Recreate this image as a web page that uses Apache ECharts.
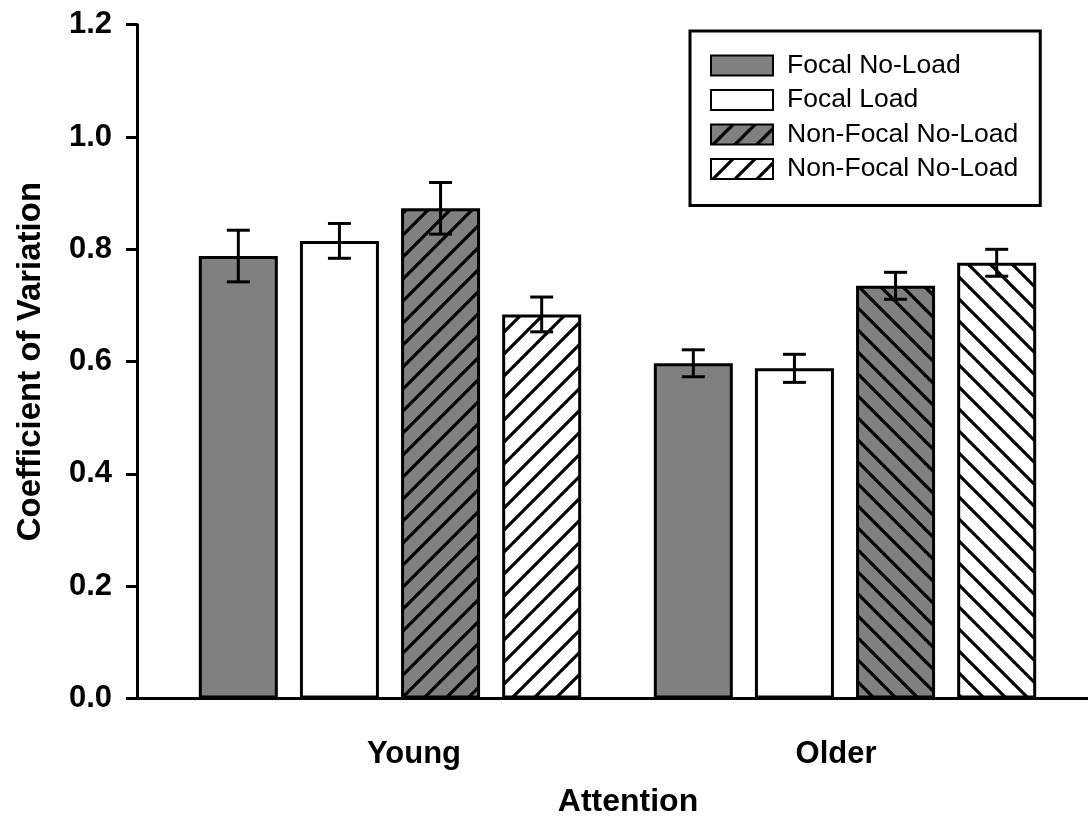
<!DOCTYPE html>
<html><head><meta charset="utf-8">
<script src="https://cdn.jsdelivr.net/npm/echarts@6/dist/echarts.min.js"></script>
<style>html,body{margin:0;padding:0;background:#fff}#c{width:1089px;height:817px}</style>
</head><body><div id="c"></div>
<script>
// ---- data ----
const categories = ['Young', 'Older'];
const seriesIds = ['focalNoLoad', 'focalLoad', 'nonFocalNoLoad', 'nonFocalLoad'];
const legendLabels = ['Focal No-Load', 'Focal Load', 'Non-Focal No-Load', 'Non-Focal No-Load'];
const focalNoLoad = [0.788, 0.597];
const focalLoad = [0.815, 0.588];
const nonFocalNoLoad = [0.873, 0.735];
const nonFocalLoad = [0.684, 0.776];
const focalNoLoadErr = [0.046, 0.024];
const focalLoadErr = [0.031, 0.025];
const nonFocalNoLoadErr = [0.046, 0.024];
const nonFocalLoadErr = [0.031, 0.024];
const yTickLabels = ['0.0', '0.2', '0.4', '0.6', '0.8', '1.0', '1.2'];
const xTitle = 'Attention';
const yTitle = 'Coefficient of Variation';

// ---- styling ----
const FONT = "'Liberation Sans', Arial, Helvetica, sans-serif";
const GRAY = '#808080';
const BAR_W = 79, BAR_GAP = '28%';

function hatch(bg, dir) {
  const s = 22;
  const c = document.createElement('canvas');
  c.width = s; c.height = s;
  const g = c.getContext('2d');
  g.fillStyle = bg; g.fillRect(0, 0, s, s);
  g.strokeStyle = '#000'; g.lineWidth = 3.2; g.lineCap = 'square';
  for (let k = -1; k <= 1; k++) {
    g.beginPath();
    if (dir === 'fwd') { g.moveTo(k * s, s); g.lineTo(k * s + s, 0); }
    else { g.moveTo(k * s, 0); g.lineTo(k * s + s, s); }
    g.stroke();
  }
  return { image: c, repeat: 'repeat' };
}
const grayFwd = hatch(GRAY, 'fwd'), grayBack = hatch(GRAY, 'back');
const whiteFwd = hatch('#fff', 'fwd'), whiteBack = hatch('#fff', 'back');

const values = [focalNoLoad, focalLoad, nonFocalNoLoad, nonFocalLoad];
const errs = [focalNoLoadErr, focalLoadErr, nonFocalNoLoadErr, nonFocalLoadErr];
const fills = [
  [GRAY, GRAY], ['#fff', '#fff'], [grayFwd, grayBack], [whiteFwd, whiteBack]
];

const barSeries = seriesIds.map((id, s) => ({
  name: id, type: 'bar', barWidth: BAR_W, barGap: BAR_GAP,
  itemStyle: { color: fills[s][0], borderColor: '#000', borderWidth: 3 },
  data: values[s].map((v, i) => ({ value: v, itemStyle: { color: fills[s][i] } })),
  z: 2
}));

const errSeries = seriesIds.map((id, s) => ({
  type: 'custom', name: id + '_err', z: 5, silent: true,
  data: values[s].map((v, i) => [i, v, errs[s][i]]),
  renderItem: function (params, api) {
    const ci = api.value(0), m = api.value(1), e = api.value(2);
    let off = 0;
    try {
      const lay = api.barLayout({ count: 4, barWidth: BAR_W, barGap: BAR_GAP });
      off = lay[s].offsetCenter;
    } catch (err) { off = (s - 1.5) * 101; }
    const top = api.coord([ci, m + e]);
    const bot = api.coord([ci, m - e]);
    const x = top[0] + off, half = 11.5;
    const st = { stroke: '#000', lineWidth: 3 };
    return { type: 'group', children: [
      { type: 'line', shape: { x1: x, y1: top[1], x2: x, y2: bot[1] }, style: st },
      { type: 'line', shape: { x1: x - half, y1: top[1], x2: x + half, y2: top[1] }, style: st },
      { type: 'line', shape: { x1: x - half, y1: bot[1], x2: x + half, y2: bot[1] }, style: st }
    ]};
  }
}));

const chart = echarts.init(document.getElementById('c'), null, { renderer: 'canvas' });
const option = {
  backgroundColor: '#fff',
  animation: false,
  textStyle: { fontFamily: FONT },
  grid: { left: 162.5, right: 16.5, top: 24.7, bottom: 118.5, containLabel: false, outerBoundsMode: 'none' },
  legend: {
    orient: 'vertical', left: 690, top: 31,
    data: seriesIds,
    formatter: name => legendLabels[seriesIds.indexOf(name)],
    icon: 'rect', itemWidth: 62, itemHeight: 20, itemGap: 7.5,
    padding: [21, 22, 23, 20],
    borderColor: '#000', borderWidth: 3,
    selectedMode: false,
    textStyle: { fontFamily: FONT, fontSize: 26.5, color: '#000', padding: [0, 0, 0, 9] }
  },
  xAxis: {
    type: 'category', data: [
      { value: categories[0], textStyle: { padding: [0, 0, 0, 48] } },
      { value: categories[1], textStyle: { padding: [0, 18, 0, 0] } }
    ],
    axisLine: { show: false }, axisTick: { show: false },
    axisLabel: { fontFamily: FONT, fontSize: 31, fontWeight: 'bold', color: '#000', margin: 40 },
    name: xTitle, nameLocation: 'middle', nameGap: 88,
    nameTextStyle: { fontFamily: FONT, fontSize: 32, fontWeight: 'bold', color: '#000', padding: [0, 0, 0, 21] }
  },
  yAxis: {
    type: 'value', min: 0, max: 1.2, interval: 0.2, offset: 25.5,
    splitLine: { show: false },
    axisLine: { show: true, lineStyle: { color: '#000', width: 3 } },
    axisTick: { show: true, length: 11, lineStyle: { color: '#000', width: 3 } },
    axisLabel: { fontFamily: FONT, fontSize: 31, fontWeight: 'bold', color: '#000', margin: 25,
      formatter: v => yTickLabels[Math.round(v / 0.2)] },
    name: yTitle, nameLocation: 'middle', nameGap: 90,
    nameTextStyle: { fontFamily: FONT, fontSize: 33, fontWeight: 'bold', color: '#000' }
  },
  series: barSeries.concat(errSeries)
};
chart.setOption(option);
// x axis baseline spanning from the y-axis line to the right edge
const y0 = chart.convertToPixel({ yAxisIndex: 0 }, 0);
chart.setOption({ graphic: [{ type: 'line', z: 10,
  shape: { x1: 137, y1: y0, x2: 1088, y2: y0 },
  style: { stroke: '#000', lineWidth: 3 } }] });
</script></body></html>
